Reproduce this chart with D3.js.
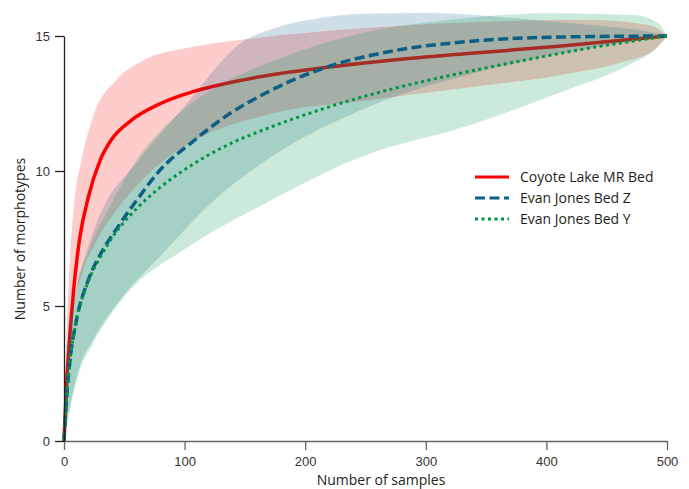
<!DOCTYPE html>
<html>
<head>
<meta charset="utf-8">
<script src="https://cdn.jsdelivr.net/npm/d3@7"></script>
<style>
  body { margin: 0; background: #fff; }
  .lbl { font-family: "Open Sans", "Noto Sans", sans-serif; font-size: 14px; fill: #231f20; }
</style>
</head>
<body>
<div id="chart"></div>
<script>
// 曲线数据 (从图上读出来的)
const redN = [0, 2, 5, 8, 13, 20, 30, 40, 55, 80, 107, 135, 170, 220, 275, 335, 410, 500];
const redV = [0, 2.0, 4.0, 5.6, 7.5, 9.0, 10.4, 11.2, 11.85, 12.5, 12.94, 13.25, 13.55, 13.85, 14.12, 14.35, 14.62, 15];

const blueN = [0, 2, 5, 10, 20, 30, 45, 60, 80, 107, 135, 170, 218, 273, 336, 410, 500];
const blueV = [0, 1.5, 3.0, 4.4, 5.95, 6.9, 7.95, 8.9, 10.05, 11.1, 12.05, 12.95, 13.85, 14.45, 14.8, 14.96, 15];

const greenN = [0, 2, 5, 10, 20, 30, 41, 60, 80, 107, 135, 170, 218, 273, 337, 384, 439, 500];
const greenV = [0, 1.5, 3.0, 4.4, 5.9, 6.8, 7.6, 8.6, 9.4, 10.25, 10.95, 11.6, 12.35, 13.05, 13.7, 14.12, 14.58, 15];

// 置信区间 上/下
const redUpN = [0, 2, 5, 8, 15, 24, 44, 66, 107, 154, 250, 334, 430, 486, 500];
const redUpV = [0, 3.6, 6.8, 8.6, 10.5, 12.0, 13.4, 14.1, 14.6, 14.9, 15.3, 15.5, 15.6, 15.4, 15];
const redLoN = [0, 3, 8, 15, 27, 46, 70, 107, 170, 254, 337, 411, 460, 490, 500];
const redLoV = [0, 2, 4.9, 6.2, 7.4, 8.7, 9.9, 11.1, 12.1, 12.63, 13.1, 13.55, 14.0, 14.5, 15];

const blueUpN = [0, 3, 10, 20, 31, 60, 100, 147, 175, 210, 250, 300, 350, 400, 450, 480, 500];
const blueUpV = [0, 3.5, 5.6, 7.2, 8.5, 10.3, 12.4, 14.75, 15.3, 15.65, 15.82, 15.85, 15.75, 15.55, 15.35, 15.2, 15];
const blueLoN = [0, 5, 13, 24, 46, 80, 124, 171, 254, 347, 430, 480, 500];
const blueLoV = [0, 1.3, 2.75, 3.75, 5.2, 6.85, 8.9, 10.5, 12.4, 13.7, 14.5, 14.85, 15];

const greenUpN = [0, 3, 10, 20, 37, 60, 92, 130, 175, 237, 320, 403, 472, 492, 500];
const greenUpV = [0, 3, 5.5, 7, 8.6, 10.4, 12.0, 13.2, 14.1, 15.0, 15.6, 15.84, 15.78, 15.5, 15];
const greenLoN = [0, 5, 13, 24, 52, 100, 171, 245, 337, 411, 467, 490, 500];
const greenLoV = [0, 1.2, 2.6, 3.6, 5.45, 7.1, 8.9, 10.5, 11.7, 12.9, 13.9, 14.5, 15];

const xTicks = [0, 100, 200, 300, 400, 500];
const yTicks = [0, 5, 10, 15];
const legendNames = ["Coyote Lake MR Bed", "Evan Jones Bed Z", "Evan Jones Bed Y"];

const width = 689, height = 489;
const svg = d3.select("#chart").append("svg")
    .attr("width", width)
    .attr("height", height);

const x = d3.scaleLinear().domain([0, 500]).range([64, 667]);
const y = d3.scaleLinear().domain([0, 15]).range([441, 36]);

function pts(ns, vs) { return ns.map((n, i) => [n, vs[i]]); }

const line = d3.line()
    .x(d => x(d[0]))
    .y(d => y(d[1]))
    .curve(d3.curveMonotoneX);

// 带状区域: 上边界 + 反向下边界
function band(upN, upV, loN, loV) {
    let up = pts(upN, upV);
    let lo = pts(loN, loV).reverse();
    return line(up) + "L" + line(lo).slice(1) + "Z";
}

const colRed = "#ff0000", colBlue = "#0e5f85", colGreen = "#009444";

// 绘制顺序: 红带, 红线, 蓝带, 绿带, 蓝线, 绿线
svg.append("path").attr("d", band(redUpN, redUpV, redLoN, redLoV))
    .attr("fill", colRed).attr("fill-opacity", 0.2);
svg.append("path").attr("d", line(pts(redN, redV)))
    .attr("fill", "none").attr("stroke", colRed).attr("stroke-width", 3.5);
svg.append("path").attr("d", band(blueUpN, blueUpV, blueLoN, blueLoV))
    .attr("fill", colBlue).attr("fill-opacity", 0.2);
svg.append("path").attr("d", band(greenUpN, greenUpV, greenLoN, greenLoV))
    .attr("fill", colGreen).attr("fill-opacity", 0.2);
svg.append("path").attr("d", line(pts(blueN, blueV)))
    .attr("fill", "none").attr("stroke", colBlue).attr("stroke-width", 3.5)
    .attr("stroke-dasharray", "10,4.5");
svg.append("path").attr("d", line(pts(greenN, greenV)))
    .attr("fill", "none").attr("stroke", colGreen).attr("stroke-width", 3)
    .attr("stroke-dasharray", "3,3.5");

// 坐标轴
const xAxis = svg.append("g")
    .attr("transform", "translate(0,441)")
    .call(d3.axisBottom(x).tickValues(xTicks).tickSize(9).tickSizeOuter(0).tickPadding(7));
xAxis.attr("font-family", "'Liberation Sans', Arial, sans-serif");
xAxis.selectAll("path, line").attr("stroke", "#666").attr("stroke-width", 1.3);
xAxis.selectAll("text").attr("font-size", 13).attr("fill", "#333");

const yAxis = svg.append("g")
    .attr("transform", "translate(64,0)")
    .call(d3.axisLeft(y).tickValues(yTicks).tickSize(9).tickSizeOuter(0).tickPadding(5));
yAxis.attr("font-family", "'Liberation Sans', Arial, sans-serif");
yAxis.selectAll("path, line").attr("stroke", "#231f20").attr("stroke-width", 1.3);
yAxis.selectAll("text").attr("font-size", 13).attr("fill", "#333");

svg.append("text").attr("class", "lbl")
    .attr("x", 381).attr("y", 485).attr("text-anchor", "middle")
    .text("Number of samples");
svg.append("text").attr("class", "lbl")
    .attr("transform", "translate(25,239) rotate(-90)")
    .attr("text-anchor", "middle")
    .text("Number of morphotypes");

// 图例
const legend = svg.append("g").attr("transform", "translate(475,177)");
const dashes = [null, "10,4.5", "3,3.5"];
const cols = [colRed, colBlue, colGreen];
legendNames.forEach(function (name, i) {
    let g = legend.append("g").attr("transform", "translate(0," + (i * 21) + ")");
    g.append("line").attr("x1", 0).attr("x2", 34).attr("y1", 0).attr("y2", 0)
        .attr("stroke", cols[i]).attr("stroke-width", 3)
        .attr("stroke-dasharray", dashes[i]);
    g.append("text").attr("class", "lbl").attr("x", 45).attr("y", 5).text(name);
});
</script>
</body>
</html>
